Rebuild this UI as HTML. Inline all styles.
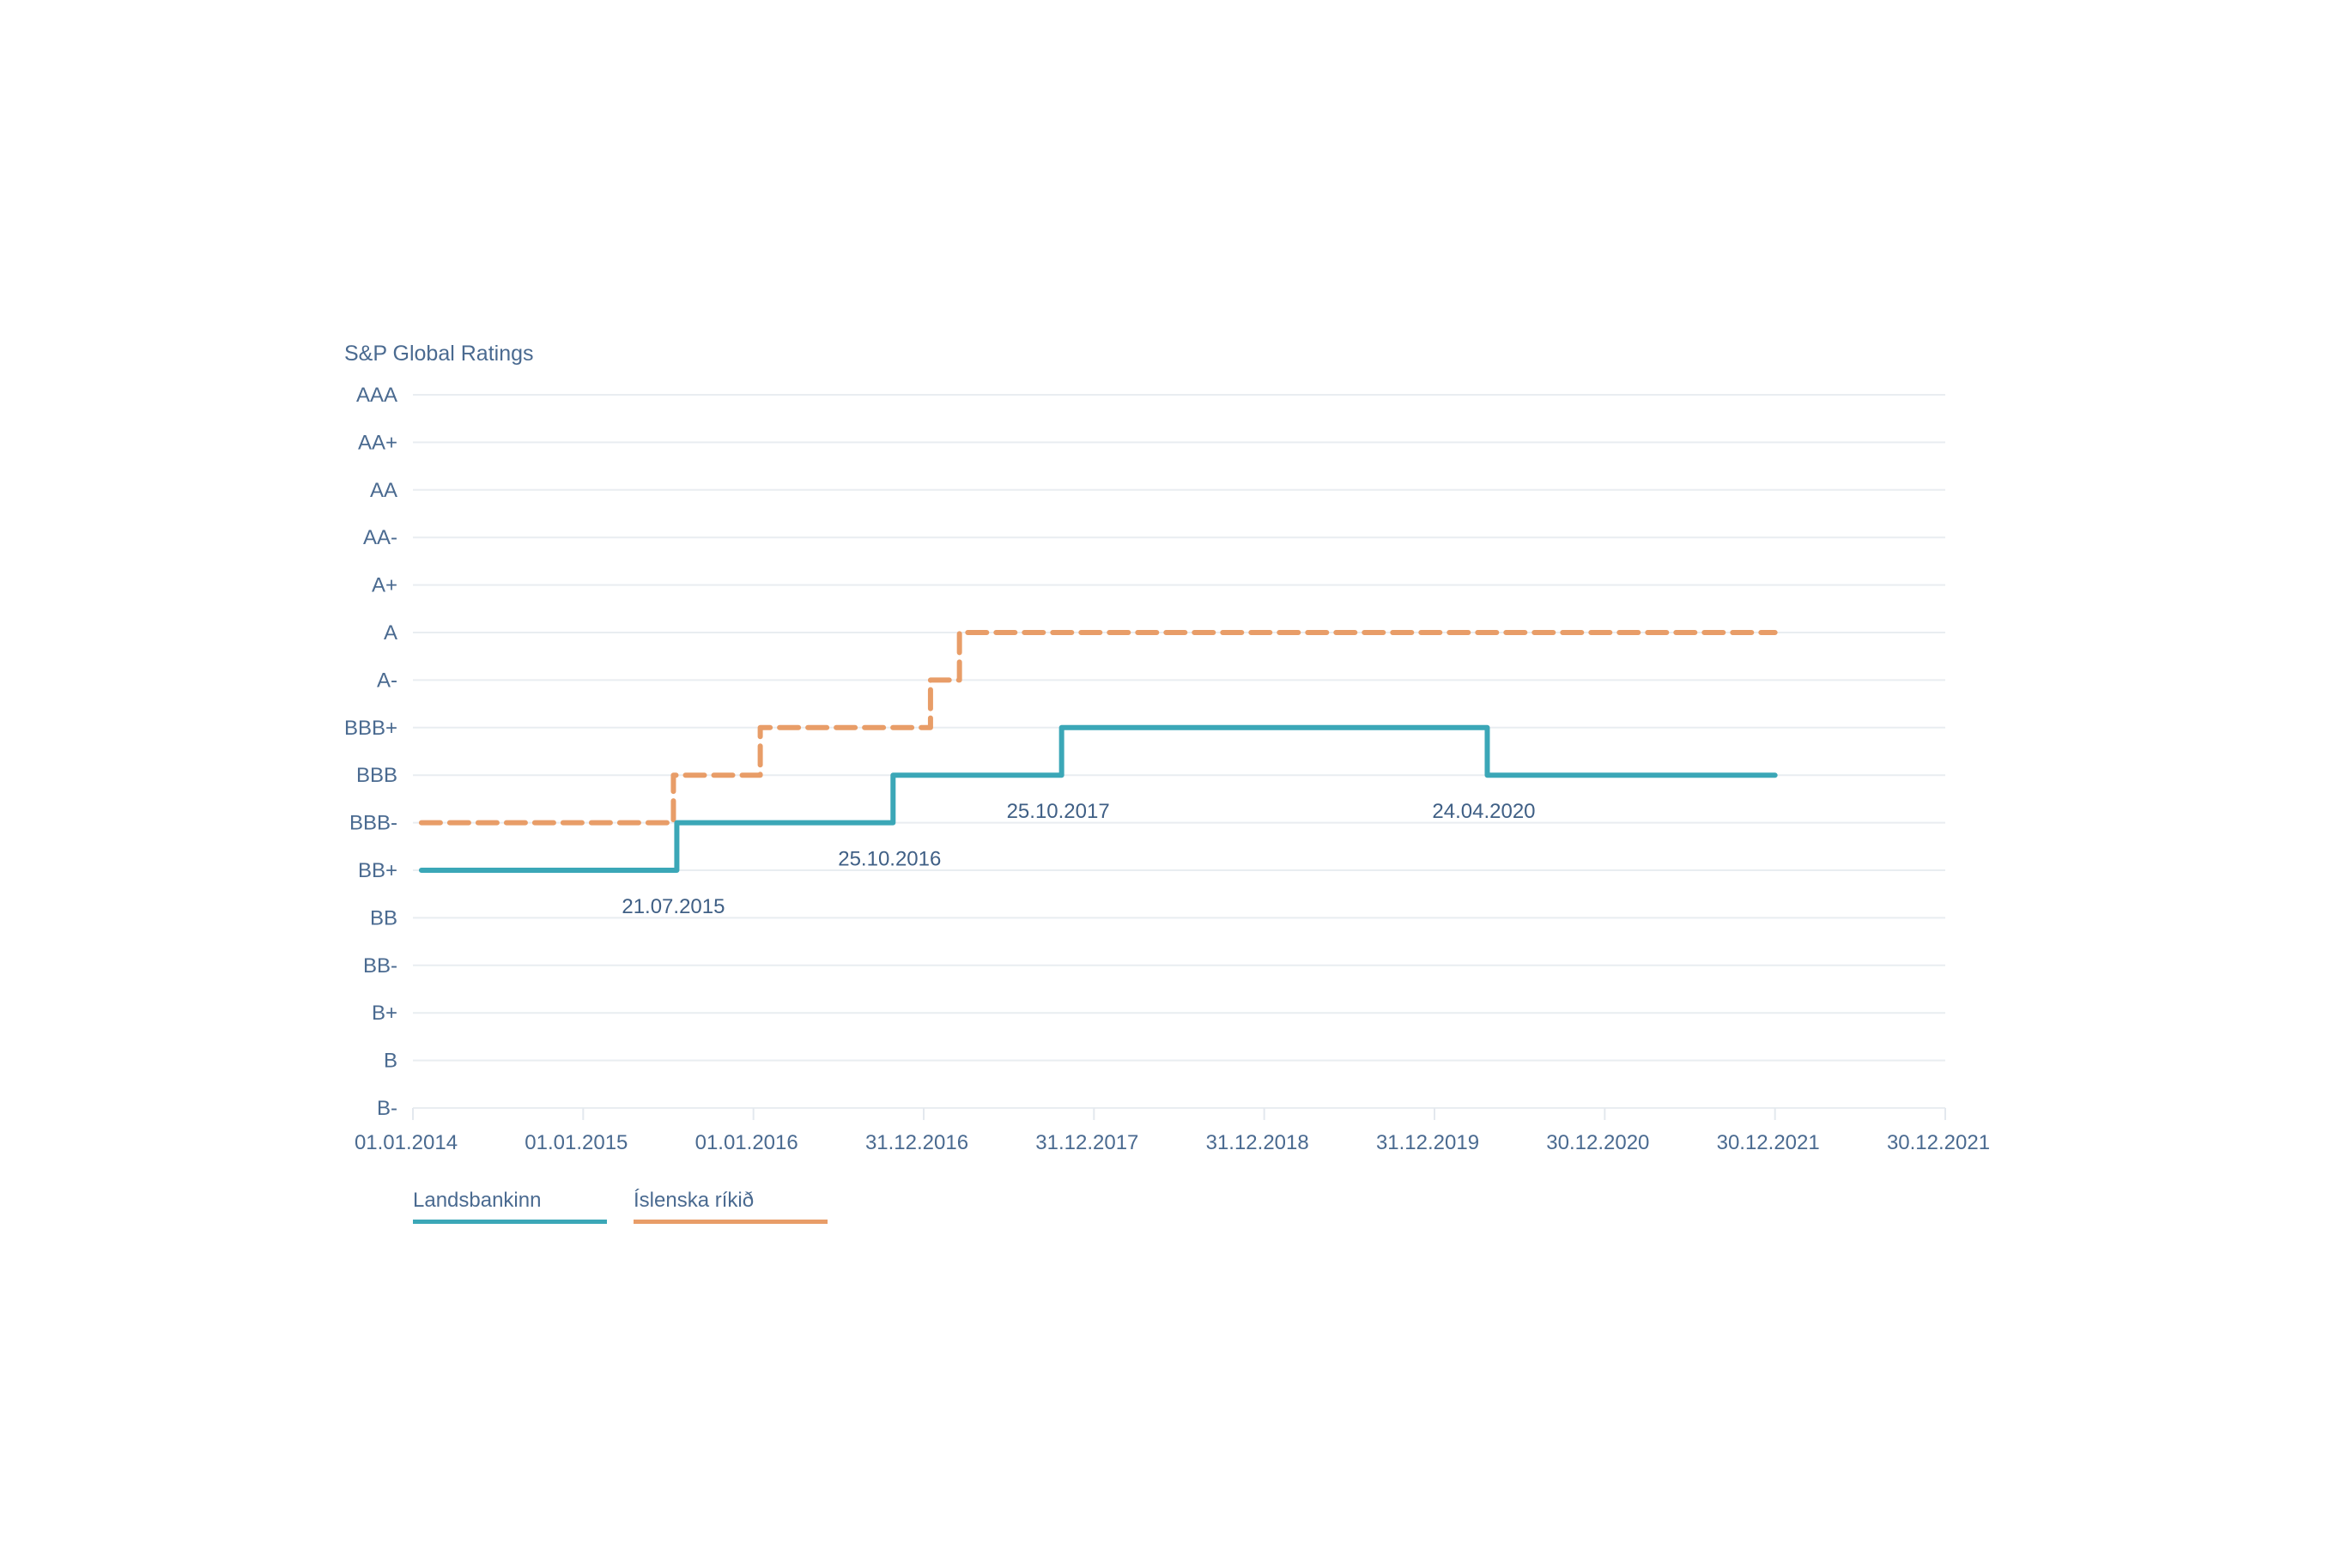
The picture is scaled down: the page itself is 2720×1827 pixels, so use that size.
<!DOCTYPE html>
<html><head><meta charset="utf-8">
<style>
html,body{margin:0;padding:0;background:#fff;}
svg{display:block;font-family:"Liberation Sans",sans-serif;}
</style></head>
<body>
<svg id="chart" width="2720" height="1827" viewBox="0 0 2720 1827" xmlns="http://www.w3.org/2000/svg">
<text x="401" y="420" font-size="25" fill="#4a6a90">S&amp;P Global Ratings</text>
<g id="grid"></g><g id="yl"></g><g id="xl"></g><g id="series"></g><g id="ann"></g>
<g>
<g>
<text x="481" y="1406" font-size="24" fill="#4a6a90">Landsbankinn</text>
<rect x="481" y="1421" width="226" height="5" fill="#3ba7b7"/></g>
<g>
<text x="738" y="1406" font-size="24" fill="#4a6a90">Íslenska ríkið</text>
<rect x="738" y="1421" width="226" height="5" fill="#e89d68"/></g>
</g>
</svg>
<script>
const ratings=["AAA","AA+","AA","AA-","A+","A","A-","BBB+","BBB","BBB-","BB+","BB","BB-","B+","B","B-"];
const xTickLabels=["01.01.2014","01.01.2015","01.01.2016","31.12.2016","31.12.2017","31.12.2018","31.12.2019","30.12.2020","30.12.2021","30.12.2021"];
// time in years since 01.01.2014 ; rating index
const landsT=[0.05,1.55,2.82,3.81,6.31,8.0];
const landsR=[10,9,8,7,8,8];
const rikidT=[0.05,1.53,2.04,3.04,3.21,8.0];
const rikidR=[9,8,7,6,5,5];
const annLabels=["21.07.2015","25.10.2016","25.10.2017","24.04.2020"];
const annT=[1.55,2.82,3.81,6.31];
const annR=[10,9,8,8];

const NS="http://www.w3.org/2000/svg";
const X0=481,X1=2266,Y0=460,Y1=1291;
function x(t){return X0+t*(X1-X0)/(xTickLabels.length-1);}
function y(r){return Y0+r*(Y1-Y0)/(ratings.length-1);}
function mk(tag,attrs,parent){const e=document.createElementNS(NS,tag);for(const k in attrs)e.setAttribute(k,attrs[k]);parent.appendChild(e);return e;}
const grid=document.getElementById('grid'),yl=document.getElementById('yl'),xl=document.getElementById('xl');
ratings.forEach((r,i)=>{
  const l=mk('line',{x1:X0,x2:X1,y1:y(i),y2:y(i),stroke:'#e9edf1','stroke-width':2},grid);
  
  
  const t=mk('text',{x:463,y:y(i)+8,'text-anchor':'end','font-size':24,fill:'#4a6a90'},yl);
  t.textContent=r;
  
  
});
xTickLabels.forEach((s,i)=>{
  const l=mk('line',{x1:x(i),x2:x(i),y1:Y1,y2:Y1+14,stroke:'#e3e8ee','stroke-width':2},xl);
  
  
  const t=mk('text',{x:x(i)-8,y:Y1+48,'text-anchor':'middle','font-size':24,fill:'#4a6a90'},xl);
  t.textContent=s;
  
  
});
function stepPath(T,R){let d=`M${x(T[0])},${y(R[0])}`;for(let i=1;i<T.length;i++){d+=` H${x(T[i])} V${y(R[i])}`;}return d;}
const sg=document.getElementById('series');
const p2=mk('path',{d:stepPath(rikidT,rikidR),fill:'none',stroke:'#e89d68','stroke-width':6,'stroke-dasharray':'22 11','stroke-linecap':'round','stroke-linejoin':'round'},sg);


const p1=mk('path',{d:stepPath(landsT,landsR),fill:'none',stroke:'#3ba7b7','stroke-width':6,'stroke-linecap':'round','stroke-linejoin':'round'},sg);


const ag=document.getElementById('ann');
annLabels.forEach((s,i)=>{
  const t=mk('text',{x:x(annT[i])-4,y:y(annR[i])+50,'text-anchor':'middle','font-size':24,fill:'#3f5f85'},ag);
  t.textContent=s;
  
  
});
</script>
</body></html>
